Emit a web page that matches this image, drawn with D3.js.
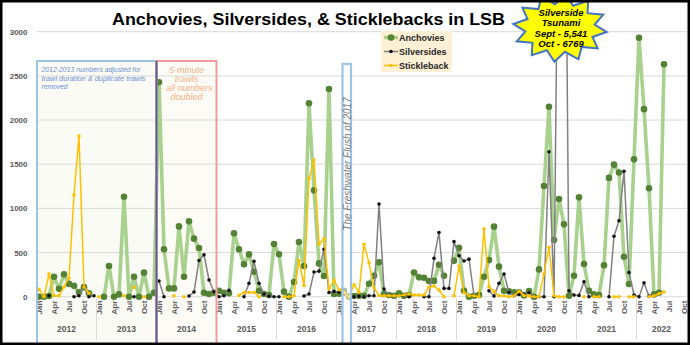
<!DOCTYPE html>
<html>
<head>
<meta charset="utf-8">
<script src="https://cdn.jsdelivr.net/npm/d3@7"></script>
<style>
  html, body { margin: 0; padding: 0; background: #fff; }
  svg { display: block; font-family: "Liberation Sans", Arial, sans-serif; }
</style>
</head>
<body>
<svg id="chart" width="690" height="345"></svg>
<script>
// ---- Category axis: monthly samples, Jan 2012 through Oct 2022 ----
const years = [2012, 2013, 2014, 2015, 2016, 2017, 2018, 2019, 2020, 2021, 2022];
const monthNames = ["Jan","Feb","Mar","Apr","May","Jun","Jul","Aug","Sep","Oct","Nov","Dec"];
const tickMonths = ["Jan","Apr","Jul","Oct"];
const lastCategory = "Oct 2022";
const yTicks = [0, 500, 1000, 1500, 2000, 2500, 3000];

// ---- Monthly catch counts (null = no trawl that month) ----
const anchovies = [
  0, 0, 8, 226, 89, 253, 145, 123, 51, 108, 38, null,
  null, 0, 347, 0, 26, 1132, 0, 226, 0, 272, 0, 45,
  2427, 536, 94, 94, 796, 226, 853, 657, 551, 45, 30, 45,
  68, 45, 40, 717, 538, 366, 479, 283, 68, 30, 19, 596,
  481, 57, 0, 166, 619, 347, 2189, 1204, 377, 234, 2351, 30,
  34, 68, 0, 8, 10, 11, 147, 236, 389, 30, 19, 11,
  38, 11, 19, 273, 219, 215, 177, 179, 362, 236, null, 406,
  553, 68, 0, 11, 19, 226, 415, 793, 340, 68, 60, 49,
  49, 15, 64, 0, 309, 1253, 2151, 642, 1106, 819, 11, 238,
  1125, 370, 68, 26, 19, 355, 1345, 1495, 1406, 453, 143, 1555,
  2932, 2123, 1227, 26, 45, 2631
];
const silversides = [
  null, null, 11, null, null, null, null, 0, 11, 117, 0, 10,
  null, null, null, null, null, null, null, 0, null, null, null, null,
  177, 0, null, null, null, null, 8, 53, 410, 475, 189, 56,
  0, 11, 72, null, null, 0, 151, 402, 151, 30, 5, 0,
  0, null, null, null, null, 8, 30, 279, 289, 538, 47, 60,
  51, 30, 10, 0, 5, 0, 10, 11, 1049, 87, 11, 11,
  11, 11, 0, null, null, 0, 0, 434, 727, 94, 94, 623,
  464, 404, 425, 11, null, null, 66, 8, 151, 257, 50, 11,
  25, 28, 45, 0, 0, 0, 1641, 0, 5541, 6769, 66, 19,
  15, 170, 0, null, null, null, 0, 685, 860, 1419, 273, 19,
  0, 157, 6, null, null, null
];
const stickleback = [
  83, 0, 257, 10, 10, 110, 212, 1151, 1820, 113, 38, null,
  0, null, null, null, null, 10, null, 104, null, 0, null, null,
  null, null, null, 10, null, 0, null, null, null, null, null, null,
  null, null, null, null, 15, 47, 47, 51, 0, null, null, null,
  null, 0, 0, 11, 411, 126, 1340, 1547, 594, 656, 88, 185,
  79, 45, 0, 136, 50, 594, 383, 100, 15, 10, 11, 11,
  11, 19, 30, 19, 19, 19, 106, 121, 75, 0, null, 11,
  347, 45, 11, 11, 0, 770, 113, 60, 10, 11, 0, 11,
  60, 15, 8, 0, 0, 260, 559, 10, 0, 0, null, null,
  null, 0, null, 0, 0, null, null, 0, 0, null, 0, 0,
  null, null, 0, 10, 34, 53
];

const seriesList = [
  { name: "Anchovies",   values: anchovies,   line: "#a9d18e", lineW: 3.6, dot: "#548235", r: 3.3 },
  { name: "Silversides", values: silversides, line: "#808080", lineW: 1.5, dot: "#111111", r: 1.8 },
  { name: "Stickleback", values: stickleback, line: "#ffc000", lineW: 1.5, dot: "#ffc000", r: 1.8 }
];

// ---- Layout ----
const W = 690, H = 345;
const plot = { left: 36.5, right: 686.5, top: 31.7, bottom: 296.7 };
const svg = d3.select("#chart");

const allMonths = [];
years.forEach(yr => monthNames.forEach(m => allMonths.push({ year: yr, month: m, key: m + " " + yr })));
const categories = allMonths.slice(0, allMonths.findIndex(c => c.key === lastCategory) + 1);

const x = d3.scaleBand().domain(categories.map(c => c.key)).range([plot.left, plot.right]);
const cx = i => x(categories[i].key) + x.bandwidth() / 2;
const y = d3.scaleLinear().domain([0, 3000]).range([plot.bottom, plot.top]);

svg.append("rect").attr("width", W).attr("height", H).attr("fill", "#fff");

// Shaded note panels (fills drawn beneath the data)
const yearStart = yr => x("Jan " + yr);
const panelTop = 61;
svg.append("rect").attr("x", plot.left).attr("y", panelTop)
  .attr("width", yearStart(2014) - plot.left).attr("height", H - panelTop)
  .attr("fill", "#fbfbf6");
svg.append("rect").attr("x", yearStart(2014)).attr("y", panelTop)
  .attr("width", yearStart(2015) - yearStart(2014)).attr("height", H - panelTop)
  .attr("fill", "#fcfbf6");

// Horizontal gridlines
svg.append("g").selectAll("line").data(yTicks).join("line")
  .attr("x1", plot.left).attr("x2", plot.right)
  .attr("y1", d => y(d)).attr("y2", d => y(d))
  .attr("stroke", "#d9d9d9").attr("stroke-width", 1);

// Value axis labels
const yAxis = svg.append("g").attr("transform", `translate(${plot.left - 6},0)`)
  .call(d3.axisLeft(y).tickValues(yTicks).tickFormat(d3.format("d")).tickSize(0));
yAxis.select(".domain").remove();
yAxis.selectAll("text").attr("font-size", 8).attr("font-weight", "bold")
  .attr("fill", "#595959").attr("font-family", "Liberation Sans, Arial, sans-serif");

// Month labels (rotated)
const xAxis = svg.append("g").attr("transform", `translate(0,${plot.bottom})`)
  .call(d3.axisBottom(x)
    .tickValues(categories.filter(c => tickMonths.includes(c.month)).map(c => c.key))
    .tickFormat(k => k.split(" ")[0]).tickSize(0));
xAxis.select(".domain").remove();
xAxis.selectAll("text")
  .attr("transform", "rotate(-90)")
  .attr("text-anchor", "end")
  .attr("x", -4).attr("y", 0).attr("dy", "0.35em")
  .attr("font-size", 8).attr("font-weight", "bold").attr("fill", "#595959")
  .attr("font-family", "Liberation Sans, Arial, sans-serif");

// Year group labels and separators
const yearGroups = years.map(yr => {
  const months = categories.filter(c => c.year === yr);
  return { year: yr, x0: x(months[0].key), x1: x(months[months.length - 1].key) + x.bandwidth() };
});
svg.append("g").selectAll("line").data(yearGroups.slice(1)).join("line")
  .attr("x1", d => d.x0).attr("x2", d => d.x0)
  .attr("y1", plot.bottom + 2).attr("y2", 340)
  .attr("stroke", "#d9d9d9").attr("stroke-width", 1);
svg.append("g").selectAll("text").data(yearGroups).join("text")
  .attr("x", d => (d.x0 + d.x1) / 2).attr("y", 331.5)
  .attr("text-anchor", "middle").attr("font-size", 8.5).attr("font-weight", "bold")
  .attr("fill", "#595959").text(d => d.year);

// Data series
svg.append("clipPath").attr("id", "plotClip").append("rect")
  .attr("x", plot.left).attr("y", plot.top - 0.5)
  .attr("width", plot.right - plot.left).attr("height", plot.bottom - plot.top + 8);

const seriesLayer = svg.append("g").attr("clip-path", "url(#plotClip)");
seriesList.forEach(s => {
  const pts = s.values.map((v, i) => ({ i, v }));
  const line = d3.line().defined(d => d.v != null).x(d => cx(d.i)).y(d => y(d.v));
  seriesLayer.append("path").datum(pts)
    .attr("d", line).attr("fill", "none")
    .attr("stroke", s.line).attr("stroke-width", s.lineW)
    .attr("stroke-linejoin", "round").attr("stroke-linecap", "round");
  seriesLayer.append("g").selectAll("circle").data(pts.filter(d => d.v != null)).join("circle")
    .attr("cx", d => cx(d.i)).attr("cy", d => y(d.v)).attr("r", s.r)
    .attr("fill", s.dot);
});

// Note panel outlines and captions
svg.append("rect").attr("x", plot.left + 0.5).attr("y", panelTop)
  .attr("width", yearStart(2014) - plot.left - 0.5).attr("height", H - panelTop + 5)
  .attr("fill", "none").attr("stroke", "#9dc3e6").attr("stroke-width", 2);
svg.append("rect").attr("x", yearStart(2014)).attr("y", panelTop)
  .attr("width", yearStart(2015) - yearStart(2014)).attr("height", H - panelTop + 5)
  .attr("fill", "none").attr("stroke", "#f19c9c").attr("stroke-width", 2);
svg.append("line").attr("x1", yearStart(2014)).attr("x2", yearStart(2014))
  .attr("y1", panelTop).attr("y2", H)
  .attr("stroke", "#5f5f8f").attr("stroke-width", 2);

const blueNote = [
  { t: "2012-2013 numbers adjusted for", w: 99 },
  { t: "trawl duration & duplicate trawls", w: 104 },
  { t: "removed", w: 26 }
];
svg.append("g").selectAll("text").data(blueNote).join("text")
  .attr("x", plot.left + 5).attr("y", (d, i) => 72 + i * 8.6)
  .attr("font-size", 7.6).attr("font-style", "italic").attr("fill", "#6a90d2")
  .attr("textLength", d => d.w).attr("lengthAdjust", "spacingAndGlyphs")
  .text(d => d.t);

const redNote = ["5-minute", "trawls", "- all numbers", "doubled"];
svg.append("g").selectAll("text").data(redNote).join("text")
  .attr("x", (yearStart(2014) + yearStart(2015)) / 2).attr("y", (d, i) => 72.5 + i * 9)
  .attr("text-anchor", "middle")
  .attr("font-size", 9).attr("font-style", "italic").attr("fill", "#f4b183")
  .text(d => d);

// Freshwater flush marker (Feb-Mar 2017)
const flushX0 = x("Feb 2017"), flushX1 = x("Apr 2017");
svg.append("rect").attr("x", flushX0 + 1).attr("y", 64)
  .attr("width", flushX1 - flushX0 - 1.5).attr("height", H - 64 + 5)
  .attr("fill", "#ffffff").attr("fill-opacity", 0.5)
  .attr("stroke", "#9dc3e6").attr("stroke-width", 2.2);
svg.append("text")
  .attr("transform", `translate(${(flushX0 + flushX1) / 2 + 0.5},164) rotate(-90)`)
  .attr("text-anchor", "middle").attr("dy", "0.35em")
  .attr("font-size", 10).attr("font-style", "italic").attr("fill", "#7a7a7a")
  .text("The Freshwater Flush of 2017");

// Title
svg.append("text").attr("x", 308.5).attr("y", 25)
  .attr("text-anchor", "middle").attr("font-size", 17).attr("font-weight", "bold")
  .attr("fill", "#000").attr("textLength", 393).attr("lengthAdjust", "spacingAndGlyphs")
  .text("Anchovies, Silversides, & Sticklebacks in LSB");

// Legend
const legend = svg.append("g").attr("transform", "translate(381,31)");
legend.append("rect").attr("width", 71).attr("height", 41).attr("fill", "#fdf0d5");
seriesList.forEach((s, i) => {
  const ly = 6.5 + i * 14;
  legend.append("line").attr("x1", 3).attr("x2", 17).attr("y1", ly).attr("y2", ly)
    .attr("stroke", s.line).attr("stroke-width", s.lineW);
  legend.append("circle").attr("cx", 10).attr("cy", ly).attr("r", s.r).attr("fill", s.dot);
  legend.append("text").attr("x", 18).attr("y", ly).attr("dy", "0.35em")
    .attr("font-size", 9).attr("font-weight", "bold").attr("fill", "#262626")
    .text(s.name);
});

// Starburst call-out for the off-scale silverside months
const star = { cx: 560, cy: 28, rx: 47, ry: 34, irx: 35, iry: 24, n: 12 };
const starPts = d3.range(star.n * 2).map(k => {
  const a = -Math.PI / 2 + Math.PI * k / star.n + 0.12;
  const outer = k % 2 === 0;
  return [star.cx + Math.cos(a) * (outer ? star.rx : star.irx),
          star.cy + Math.sin(a) * (outer ? star.ry : star.iry)];
});
svg.append("polygon").attr("points", starPts.map(p => p.join(",")).join(" "))
  .attr("fill", "#ffff00").attr("stroke", "#4472c4").attr("stroke-width", 2)
  .attr("stroke-linejoin", "miter");
const tsunamiText = ["Silverside", "Tsunami", "Sept - 5,541", "Oct - 6769"];
svg.append("g").selectAll("text").data(tsunamiText).join("text")
  .attr("x", star.cx + 1).attr("y", (d, i) => 16 + i * 10.4)
  .attr("text-anchor", "middle").attr("font-size", 9.5)
  .attr("font-weight", "bold").attr("font-style", "italic").attr("fill", "#000")
  .text(d => d);

// Outer frame
svg.append("rect").attr("x", 1.25).attr("y", 1.25).attr("width", W - 2.5).attr("height", H - 2.5)
  .attr("fill", "none").attr("stroke", "#000").attr("stroke-width", 2.5);
</script>
</body>
</html>
